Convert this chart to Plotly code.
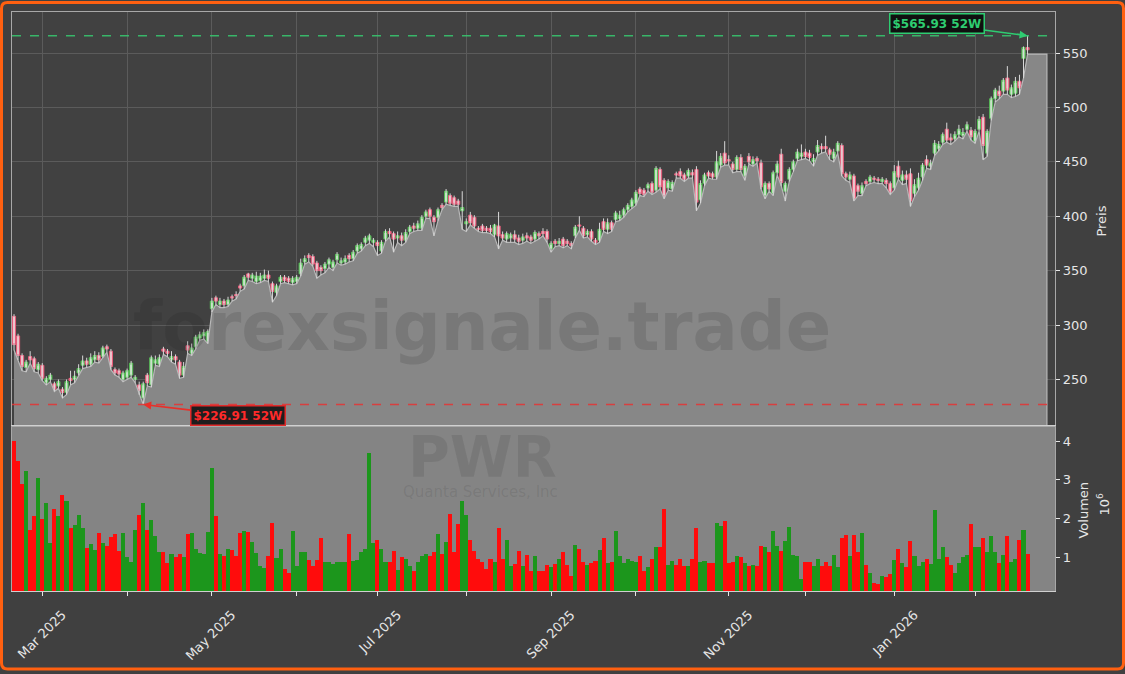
import plotly.graph_objects as go
import pandas as pd

# ---------------- data ----------------
start_date = "2025-02-20"
end_date = "2026-02-20"
market_holidays = ["2025-04-18", "2025-05-26", "2025-06-19", "2025-07-04", "2025-09-01",
                   "2025-11-27", "2025-12-25", "2026-01-01", "2026-01-19", "2026-02-16"]

opens = [
    308, 290, 272, 261, 271, 269, 259, 263, 247, 250,
    246, 244, 241, 238, 251, 250, 256, 263, 267, 264,
    268, 272, 271, 280, 276, 259, 258, 250, 252, 254,
    250, 245, 233, 254, 245, 265, 264, 278, 276, 268,
    271, 266, 254, 281, 274, 280, 288, 290, 285, 315,
    325, 319, 322, 319, 326, 328, 336, 336, 347, 343,
    340, 341, 343, 346, 338, 330, 340, 344, 343, 339,
    340, 347, 358, 364, 363, 357, 353, 352, 356, 353,
    360, 357, 358, 364, 361, 368, 370, 376, 378, 376,
    376, 368, 379, 386, 384, 380, 382, 378, 386, 391,
    389, 389, 400, 406, 399, 399, 410, 413, 419, 417,
    414, 405, 393, 401, 399, 389, 391, 389, 389, 383,
    391, 383, 379, 380, 383, 380, 378, 382, 381, 379,
    384, 386, 386, 370, 377, 375, 379, 377, 375, 382,
    392, 389, 383, 386, 378, 378, 395, 388, 394, 397,
    398, 401, 406, 409, 412, 425, 424, 426, 430, 424,
    443, 433, 426, 425, 439, 441, 438, 437, 440, 443,
    415, 430, 440, 439, 436, 447, 458, 452, 448, 443,
    454, 437, 455, 448, 453, 449, 419, 430, 421, 440,
    457, 423, 434, 443, 453, 455, 459, 458, 450, 459,
    464, 464, 461, 453, 460, 465, 439, 434, 437, 428,
    421, 432, 432, 435, 434, 432, 433, 430, 426, 446,
    433, 438, 439, 421, 426, 436, 452, 446, 458, 462,
    468, 480, 472, 471, 475, 474, 480, 479, 469, 480,
    491, 458, 490, 508, 515, 515, 527, 512, 513, 524, 545, 555,
]
highs = [
    310, 292, 274, 268, 276, 271, 266, 265, 253, 256,
    248, 250, 243, 250, 258, 258, 264, 272, 270, 274,
    276, 275, 281, 282, 278, 261, 260, 258, 260, 267,
    254, 248, 248, 256, 272, 272, 273, 280, 278, 276,
    273, 268, 266, 285, 283, 291, 294, 296, 296, 325,
    327, 325, 324, 326, 328, 331, 338, 346, 348, 348,
    349, 348, 351, 350, 340, 338, 346, 346, 345, 345,
    346, 361, 364, 366, 365, 359, 355, 358, 362, 360,
    367, 362, 364, 366, 369, 375, 376, 382, 384, 380,
    378, 378, 388, 389, 386, 386, 385, 388, 392, 394,
    396, 401, 406, 408, 401, 408, 412, 425, 421, 419,
    416, 423, 398, 404, 401, 391, 393, 391, 392, 393,
    404, 386, 386, 385, 387, 383, 384, 385, 383, 387,
    386, 389, 388, 377, 379, 380, 381, 379, 377, 392,
    400, 391, 388, 388, 380, 394, 398, 398, 396, 405,
    405, 408, 412, 417, 424, 427, 426, 431, 432, 446,
    445, 435, 434, 433, 441, 444, 440, 444, 443, 446,
    433, 440, 442, 441, 460, 458, 469, 456, 450, 456,
    457, 448, 458, 455, 455, 452, 432, 432, 442, 451,
    462, 432, 445, 452, 462, 466, 462, 461, 457, 470,
    467, 474, 463, 462, 469, 467, 441, 441, 439, 430,
    431, 434, 438, 437, 436, 436, 435, 432, 447, 451,
    442, 442, 444, 434, 440, 449, 456, 452, 470, 469,
    477, 486, 476, 478, 484, 481, 487, 482, 480, 492,
    494, 480, 510, 518, 520, 527, 538, 521, 528, 530, 556, 565.93,
]
lows = [
    277, 268, 258, 257, 265, 257, 256, 249, 245, 248,
    239, 242, 233, 236, 245, 247, 254, 260, 261, 262,
    266, 265, 270, 275, 259, 254, 252, 248, 250, 252,
    247, 236, 226.91, 244, 243, 263, 262, 273, 271, 266,
    264, 251, 252, 274, 272, 278, 286, 287, 283, 312,
    319, 316, 316, 317, 322, 324, 331, 333, 341, 340,
    338, 339, 341, 340, 321, 327, 338, 339, 338, 337,
    338, 345, 356, 358, 354, 343, 346, 348, 353, 350,
    357, 355, 356, 358, 359, 366, 368, 373, 375, 372,
    364, 366, 377, 381, 367, 376, 373, 376, 384, 386,
    387, 387, 398, 398, 382, 396, 406, 411, 410, 409,
    409, 388, 386, 392, 389, 386, 385, 385, 384, 381,
    370, 378, 376, 376, 376, 374, 375, 377, 375, 377,
    379, 382, 376, 367, 372, 373, 371, 373, 370, 380,
    387, 380, 381, 377, 374, 376, 386, 384, 386, 395,
    396, 399, 404, 407, 410, 419, 418, 423, 420, 422,
    425, 416, 424, 423, 435, 435, 432, 435, 435, 405,
    412, 428, 435, 434, 434, 445, 447, 447, 440, 441,
    441, 433, 448, 446, 449, 425, 416, 423, 419, 438,
    428, 414, 432, 441, 451, 452, 453, 451, 446, 456,
    458, 459, 452, 450, 458, 437, 433, 431, 414, 419,
    419, 428, 430, 431, 430, 430, 426, 420, 424, 434,
    429, 430, 409, 418, 424, 433, 444, 443, 456, 460,
    466, 468, 466, 469, 473, 471, 478, 470, 467, 478,
    452, 455, 488, 505, 508, 512, 512, 509, 510, 512, 527, 549,
]
closes = [
    282, 272, 262, 266, 268, 260, 264, 251, 251, 254,
    241, 248, 238, 248, 249, 253, 260, 267, 264, 270,
    272, 268, 279, 278, 262, 256, 255, 256, 258, 265,
    252, 240, 246, 247, 270, 268, 270, 276, 274, 271,
    268, 254, 262, 277, 279, 289, 291, 293, 294, 322,
    322, 322, 319, 323, 325, 327, 334, 344, 344, 346,
    345, 345, 346, 343, 331, 336, 344, 341, 340, 343,
    344, 357, 361, 362, 356, 350, 350, 356, 360, 358,
    365, 359, 361, 361, 367, 373, 374, 380, 382, 378,
    373, 376, 386, 384, 379, 382, 378, 385, 390, 389,
    393, 399, 404, 400, 395, 406, 408, 423, 412, 411,
    411, 408, 395, 394, 391, 388, 387, 387, 386, 392,
    382, 380, 384, 383, 379, 377, 381, 380, 378, 385,
    382, 384, 379, 375, 375, 377, 373, 375, 373, 390,
    391, 382, 386, 379, 376, 388, 388, 394, 388, 403,
    401, 406, 410, 415, 422, 421, 420, 429, 422, 444,
    427, 418, 432, 431, 438, 437, 434, 442, 438, 413,
    430, 438, 437, 436, 450, 455, 449, 451, 443, 454,
    443, 446, 450, 452, 451, 427, 430, 425, 440, 448,
    431, 430, 443, 450, 459, 458, 455, 454, 453, 465,
    462, 462, 457, 459, 467, 439, 436, 438, 415, 423,
    428, 430, 436, 434, 433, 434, 430, 422, 441, 436,
    438, 434, 414, 429, 435, 447, 447, 449, 467, 466,
    475, 470, 470, 475, 480, 477, 484, 473, 478, 489,
    465, 478, 508, 516, 511, 525, 516, 518, 524, 518, 555, 553,
]
volume_millions = [
    4.00, 3.49, 2.90, 3.22, 1.69, 2.07, 3.04, 1.99, 2.40, 1.36,
    2.25, 2.07, 2.61, 2.45, 1.76, 1.84, 2.09, 1.76, 1.24, 1.33,
    1.19, 1.63, 1.37, 1.28, 1.53, 1.60, 1.16, 1.63, 0.99, 0.88,
    1.71, 2.10, 2.40, 1.71, 1.96, 1.55, 1.12, 1.12, 0.84, 1.07,
    0.99, 1.07, 0.99, 1.59, 1.63, 1.22, 1.10, 1.07, 1.66, 3.30,
    2.07, 1.07, 1.03, 1.22, 1.19, 1.03, 1.61, 1.68, 1.66, 1.40,
    1.10, 0.76, 0.72, 1.02, 1.89, 0.98, 1.22, 0.68, 0.59, 1.68,
    0.78, 1.14, 1.12, 0.92, 0.77, 0.92, 1.50, 0.88, 0.88, 0.82,
    0.86, 0.88, 0.88, 1.59, 0.89, 0.93, 1.12, 1.22, 3.69, 1.37,
    1.45, 1.20, 0.88, 0.86, 1.17, 0.66, 0.99, 0.94, 0.77, 0.63,
    0.86, 1.02, 1.09, 1.02, 1.14, 1.59, 1.09, 1.40, 2.12, 1.12,
    1.86, 2.45, 2.09, 1.45, 1.17, 0.96, 0.88, 0.68, 0.94, 0.88,
    1.74, 0.94, 1.45, 0.77, 0.82, 1.17, 0.77, 1.06, 0.63, 1.04,
    0.65, 0.65, 0.80, 0.75, 0.82, 0.96, 1.14, 0.80, 0.52, 1.32,
    1.22, 0.86, 0.80, 0.84, 0.90, 1.19, 1.50, 0.84, 0.86, 1.68,
    1.04, 0.84, 0.96, 0.90, 0.86, 1.02, 0.65, 0.75, 0.96, 1.25,
    1.27, 2.25, 0.80, 0.90, 0.80, 0.96, 0.77, 0.77, 0.94, 1.76,
    0.88, 0.90, 0.84, 0.84, 1.89, 1.80, 1.94, 0.84, 0.86, 1.02,
    0.99, 0.84, 0.77, 0.79, 0.77, 1.29, 1.27, 1.12, 1.68, 1.29,
    1.17, 1.42, 1.78, 1.06, 1.04, 0.42, 0.86, 0.86, 0.76, 0.96,
    0.76, 0.86, 0.76, 1.06, 0.74, 1.50, 1.58, 1.02, 1.58, 1.12,
    1.63, 0.80, 0.58, 0.32, 0.30, 0.52, 0.49, 0.55, 0.92, 1.20,
    0.84, 0.74, 1.42, 1.04, 0.76, 0.86, 0.94, 0.82, 2.22, 0.94,
    1.25, 0.99, 0.80, 0.58, 0.84, 0.99, 1.06, 1.86, 1.25, 1.27,
    1.50, 1.14, 1.54, 1.12, 0.84, 1.06, 1.54, 0.88, 0.96, 1.45, 1.71, 1.09,
]
price_ticks = [250, 300, 350, 400, 450, 500, 550]
volume_ticks = [1, 2, 3, 4]
ticker = "PWR"
company = "Quanta Services, Inc"
watermark = "forexsignale.trade"

# ---------------- styling ----------------
FIG_BG = "#404040"
PLOT_BG = "#414141"
GRID = "#5b5b5b"
FILL = "#878787"
VOL_BG = "#848484"
TXT = "#e6e6e6"
UP_BAR = "#1c961c"
DN_BAR = "#ff0c0c"
FONT = "DejaVu Sans"
FILL_EXT = 4.8

N = len(closes)
idx = list(range(N))
dates = [d for d in pd.bdate_range(start_date, end_date)
         if d.strftime("%Y-%m-%d") not in market_holidays]

tick_idx, tick_txt = [], []
prev_m = None
for i, d in enumerate(dates[:N]):
    if prev_m is not None and d.month != prev_m:
        tick_idx.append(i)
        tick_txt.append(d.strftime("%b %Y") if d.month % 2 == 1 else "")
    prev_m = d.month

# layout geometry (pixels)
W, H = 1125, 674
ML, MR, MT, MB = 12, 70, 11, 80
PW, PH = W - ML - MR, H - MT - MB
split_px = 428
VD = (H - MB - split_px) / PH

def px(X):
    return (X - ML) / PW

def py(Y):
    return (H - MB - Y) / PH

x_range = [-0.5, 257.8]
price_range = [207.1, 587.7]
vol_range = [0.126, 4.39]

fig = go.Figure()

# low-line area
fill_x = idx + [N - 1 + FILL_EXT, N - 1 + FILL_EXT]
fill_y = lows + [lows[-1], 0]
fig.add_trace(go.Scatter(x=fill_x, y=fill_y, mode="lines",
                         line=dict(color="#b8b8b8", width=1.2),
                         fill="tozeroy", fillcolor=FILL,
                         xaxis="x", yaxis="y", hoverinfo="skip"))

# wicks
wx, wy = [], []
for i in idx:
    wx += [i, i, None]
    wy += [lows[i], highs[i], None]
fig.add_trace(go.Scatter(x=wx, y=wy, mode="lines",
                         line=dict(color="#d8d8d8", width=1),
                         xaxis="x", yaxis="y", hoverinfo="skip"))

# candle bodies
body_hi = [max(o, c) for o, c in zip(opens, closes)]
body_lo = [min(o, c) for o, c in zip(opens, closes)]
fig.add_trace(go.Candlestick(
    x=idx, open=opens, high=body_hi, low=body_lo, close=closes,
    increasing=dict(fillcolor="#b4ecb4", line=dict(color="#55bb55", width=1)),
    decreasing=dict(fillcolor="#ffb0c0", line=dict(color="#e55a78", width=1)),
    whiskerwidth=0, xaxis="x", yaxis="y", hoverinfo="skip"))

# volume
bar_colors = [UP_BAR if c >= o else DN_BAR for o, c in zip(opens, closes)]
fig.add_trace(go.Bar(x=idx, y=volume_millions, width=1.0,
                     marker=dict(color=bar_colors, line=dict(width=0)),
                     xaxis="x2", yaxis="y2", hoverinfo="skip"))

hi_val = max(highs)
lo_val = min(lows)
hi_i = highs.index(hi_val)
lo_i = lows.index(lo_val)

shapes = [
    dict(type="rect", xref="x2 domain", yref="y2 domain", x0=0, x1=1, y0=0, y1=1,
         fillcolor=VOL_BG, line=dict(width=0), layer="below"),
    dict(type="line", xref="x domain", yref="y", x0=0, x1=1, y0=hi_val, y1=hi_val,
         line=dict(color="rgba(55,195,110,0.9)", width=1.5, dash="dash")),
    dict(type="line", xref="x domain", yref="y", x0=0, x1=1, y0=lo_val, y1=lo_val,
         line=dict(color="rgba(225,55,55,0.9)", width=1.5, dash="dash")),
]

# orange rounded frame around the whole figure
X0, X1, Y0, Y1, r = 1.5, W - 1.5, 1.5, H - 1.5, 6
path = (f"M {px(X0 + r)},{py(Y0)} L {px(X1 - r)},{py(Y0)} Q {px(X1)},{py(Y0)} {px(X1)},{py(Y0 + r)} "
        f"L {px(X1)},{py(Y1 - r)} Q {px(X1)},{py(Y1)} {px(X1 - r)},{py(Y1)} "
        f"L {px(X0 + r)},{py(Y1)} Q {px(X0)},{py(Y1)} {px(X0)},{py(Y1 - r)} "
        f"L {px(X0)},{py(Y0 + r)} Q {px(X0)},{py(Y0)} {px(X0 + r)},{py(Y0)} Z")
shapes.append(dict(type="path", xref="paper", yref="paper", path=path,
                   line=dict(color="#ff6010", width=3), fillcolor="rgba(0,0,0,0)"))

annotations = [
    dict(text=f"<b>{watermark}</b>", xref="paper", yref="paper", x=px(482), y=py(328),
         showarrow=False, font=dict(family=FONT, size=67, color="rgba(30,30,30,0.14)"),
         xanchor="center", yanchor="middle"),
    dict(text=f"<b>{ticker}</b>", xref="paper", yref="paper", x=px(482), y=py(459),
         showarrow=False, font=dict(family=FONT, size=57, color="rgba(30,30,30,0.11)"),
         xanchor="center", yanchor="middle"),
    dict(text=company, xref="paper", yref="paper", x=px(480), y=py(494),
         showarrow=False, font=dict(family=FONT, size=15, color="rgba(30,30,30,0.11)"),
         xanchor="center", yanchor="middle"),
    dict(text=f"<b>${hi_val:.2f} 52W</b>", x=hi_i, y=hi_val, xref="x", yref="y",
         ax=-91, ay=-12, showarrow=True, arrowhead=2, arrowsize=1, arrowwidth=1.6,
         arrowcolor="#2ecc71", font=dict(family=FONT, size=12, color="#2ecc71"),
         bgcolor="#101010", bordercolor="#2ecc71", borderwidth=1.5, borderpad=2),
    dict(text=f"<b>${lo_val:.2f} 52W</b>", x=lo_i, y=lo_val, xref="x", yref="y",
         ax=95, ay=11, showarrow=True, arrowhead=2, arrowsize=1, arrowwidth=1.6,
         arrowcolor="#e8302a", font=dict(family=FONT, size=12, color="#ff2a2a"),
         bgcolor="#1e1e1e", bordercolor="#e02a2a", borderwidth=1.5, borderpad=2),
    dict(text="Preis", xref="paper", yref="paper", x=px(1102), y=py(222), textangle=-90,
         showarrow=False, font=dict(family=FONT, size=13, color=TXT),
         xanchor="center", yanchor="middle"),
    dict(text="Volumen", xref="paper", yref="paper", x=px(1084), y=py(513), textangle=-90,
         showarrow=False, font=dict(family=FONT, size=13, color=TXT),
         xanchor="center", yanchor="middle"),
    dict(text="10<sup>6</sup>", xref="paper", yref="paper", x=px(1103), y=py(507), textangle=-90,
         showarrow=False, font=dict(family=FONT, size=13, color=TXT),
         xanchor="center", yanchor="middle"),
]

fig.update_layout(
    width=W, height=H, margin=dict(l=ML, r=MR, t=MT, b=MB, pad=0),
    paper_bgcolor=FIG_BG, plot_bgcolor=PLOT_BG, showlegend=False,
    font=dict(family=FONT, size=13, color=TXT), bargap=0, boxgap=0.22, boxgroupgap=0,
    xaxis=dict(domain=[0, 1], anchor="y", range=x_range, tickmode="array", tickvals=tick_idx,
               showticklabels=False, ticks="", showgrid=True, gridcolor=GRID, gridwidth=1,
               showline=True, mirror=True, linecolor="#a8a8a8", linewidth=1.2, zeroline=False,
               rangeslider=dict(visible=False)),
    yaxis=dict(domain=[VD, 1], anchor="x", side="right", range=price_range, tickmode="array",
               tickvals=price_ticks, ticks="outside", ticklen=4, tickcolor=TXT,
               showgrid=True, gridcolor=GRID, gridwidth=1, showline=True, mirror=True,
               linecolor="#a8a8a8", linewidth=1.2, zeroline=False, tickfont=dict(size=13, color=TXT)),
    xaxis2=dict(domain=[0, 1], anchor="y2", matches="x", range=x_range, tickmode="array",
                tickvals=tick_idx, ticktext=tick_txt, tickangle=-45, ticks="outside", ticklen=4,
                tickcolor=TXT, showgrid=False, showline=True, mirror=True, linecolor="#d0d0d0",
                linewidth=1.2, zeroline=False, tickfont=dict(size=13, color=TXT),
                ticklabelshift=20, ticklabelstandoff=6),
    yaxis2=dict(domain=[0, VD], anchor="x2", side="right", range=vol_range, tickmode="array",
                tickvals=volume_ticks, ticks="outside", ticklen=4, tickcolor=TXT,
                showgrid=False, showline=True, mirror=True, linecolor="#a8a8a8", linewidth=1.2,
                zeroline=False, tickfont=dict(size=13, color=TXT)),
    shapes=shapes, annotations=annotations,
)

fig.write_html("out.html", config={"displayModeBar": False},
               post_script="document.body.style.margin='0px';")
